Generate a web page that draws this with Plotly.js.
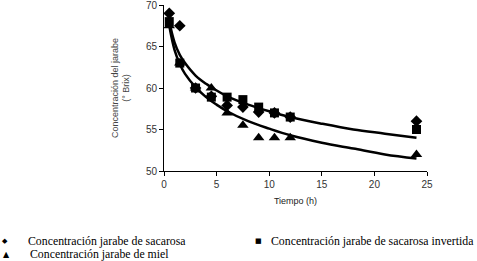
<!DOCTYPE html>
<html>
<head>
<meta charset="utf-8">
<script src="https://cdn.plot.ly/plotly-3.0.1.min.js"></script>
<style>html,body{margin:0;padding:0;background:#fff;}#chart{width:477px;height:261px;}</style>
</head>
<body>
<div id="chart"></div>
<script>
// Measured data (time in h, concentration in °Brix)
var tiempo = [0.5, 1.5, 3, 4.5, 6, 7.5, 9, 10.5, 12, 24];
var sacarosa = [69.0, 67.5, 60.0, 59.0, 57.9, 57.7, 57.1, 57.0, 56.5, 56.0];
var invertida = [68.0, 63.0, 60.0, 58.9, 58.9, 58.6, 57.7, 57.0, 56.5, 55.0];
var miel = [67.5, 63.0, 60.0, 60.0, 57.0, 55.5, 54.0, 54.0, 54.0, 52.0];

// Trend curves
var curvaX = [0.5, 1, 1.5, 2, 3, 4, 5, 6, 8, 10, 12, 15, 18, 21, 24];
var curvaAlta = [68.0, 65.5, 64.0, 63.0, 61.5, 60.5, 59.7, 59.0, 58.0, 57.2, 56.5, 55.7, 55.0, 54.5, 54.0];
var curvaBaja = [67.5, 64.6, 62.9, 61.7, 60.1, 58.9, 58.0, 57.2, 56.0, 55.1, 54.3, 53.4, 52.7, 52.0, 51.5];

var xTicks = [0, 5, 10, 15, 20, 25];
var yTicks = [50, 55, 60, 65, 70];

var names = ['Concentración jarabe de sacarosa', 'Concentración jarabe de sacarosa invertida', 'Concentración jarabe de miel'];
var legendGlyphs = ['◆', '■', '▲'];

var traces = [
  {x: curvaX, y: curvaAlta, mode: 'lines', line: {color: '#000', width: 2.5, shape: 'spline'}, showlegend: false, hoverinfo: 'skip'},
  {x: curvaX, y: curvaBaja, mode: 'lines', line: {color: '#000', width: 2.5, shape: 'spline'}, showlegend: false, hoverinfo: 'skip'},
  {x: tiempo, y: miel, mode: 'markers', name: names[2], marker: {symbol: 'triangle-up', size: 10, color: '#000'}, showlegend: false},
  {x: tiempo, y: sacarosa, mode: 'markers', name: names[0], marker: {symbol: 'diamond', size: 9, color: '#000'}, showlegend: false},
  {x: tiempo, y: invertida, mode: 'markers', name: names[1], marker: {symbol: 'square', size: 9, color: '#000'}, showlegend: false}
];

// plot area in pixels
var L = 164, R = 427, T = 5, B = 171;
function px(x) { return (x - L) / (R - L); }
function py(y) { return (B - y) / (B - T); }

var serif = {family: '"Times New Roman", "Liberation Serif", serif', size: 11.8, color: '#000'};
var legendItems = [
  {glyph: 0, gx: 5, tx: 26, y: 241, gsize: 7},
  {glyph: 1, gx: 258, tx: 269, y: 241, gsize: 7},
  {glyph: 2, gx: 6, tx: 28, y: 254, gsize: 8}
];
var annotations = [];
legendItems.forEach(function (it) {
  annotations.push({xref: 'paper', yref: 'paper', x: px(it.gx), y: py(it.y), xanchor: 'center', yanchor: 'middle',
    text: legendGlyphs[it.glyph], showarrow: false, font: {family: 'DejaVu Sans', size: it.gsize, color: '#000'}});
  annotations.push({xref: 'paper', yref: 'paper', x: px(it.tx), y: py(it.y), xanchor: 'left', yanchor: 'middle',
    text: names[it.glyph], showarrow: false, font: serif});
});

var axisFont = {family: 'Liberation Sans', size: 10, color: '#333'};

var layout = {
  width: 477, height: 261,
  margin: {l: L, r: 477 - R, t: T, b: 261 - B},
  paper_bgcolor: '#fff', plot_bgcolor: '#fff',
  showlegend: false,
  annotations: annotations,
  xaxis: {
    range: [0, 25], tickvals: xTicks, ticktext: xTicks.map(String),
    showgrid: false, zeroline: false, showline: true, linecolor: '#000', linewidth: 1,
    ticks: 'outside', ticklen: 4, tickcolor: '#000', tickfont: axisFont, ticklabeloverflow: 'allow',
    title: {text: 'Tiempo (h)', font: {family: 'Liberation Sans', size: 9, color: '#222'}, standoff: 8}
  },
  yaxis: {
    range: [50, 70], tickvals: yTicks, ticktext: yTicks.map(String),
    showgrid: false, zeroline: false, showline: true, linecolor: '#000', linewidth: 1,
    ticks: 'outside', ticklen: 4, tickcolor: '#000', tickfont: axisFont, ticklabeloverflow: 'allow',
    title: {text: 'Concentración del jarabe<br>(° Brix)', font: {family: 'Liberation Sans', size: 9, color: '#444'}, standoff: 14}
  }
};

Plotly.newPlot('chart', traces, layout, {displayModeBar: false, staticPlot: true});
</script>
</body>
</html>
